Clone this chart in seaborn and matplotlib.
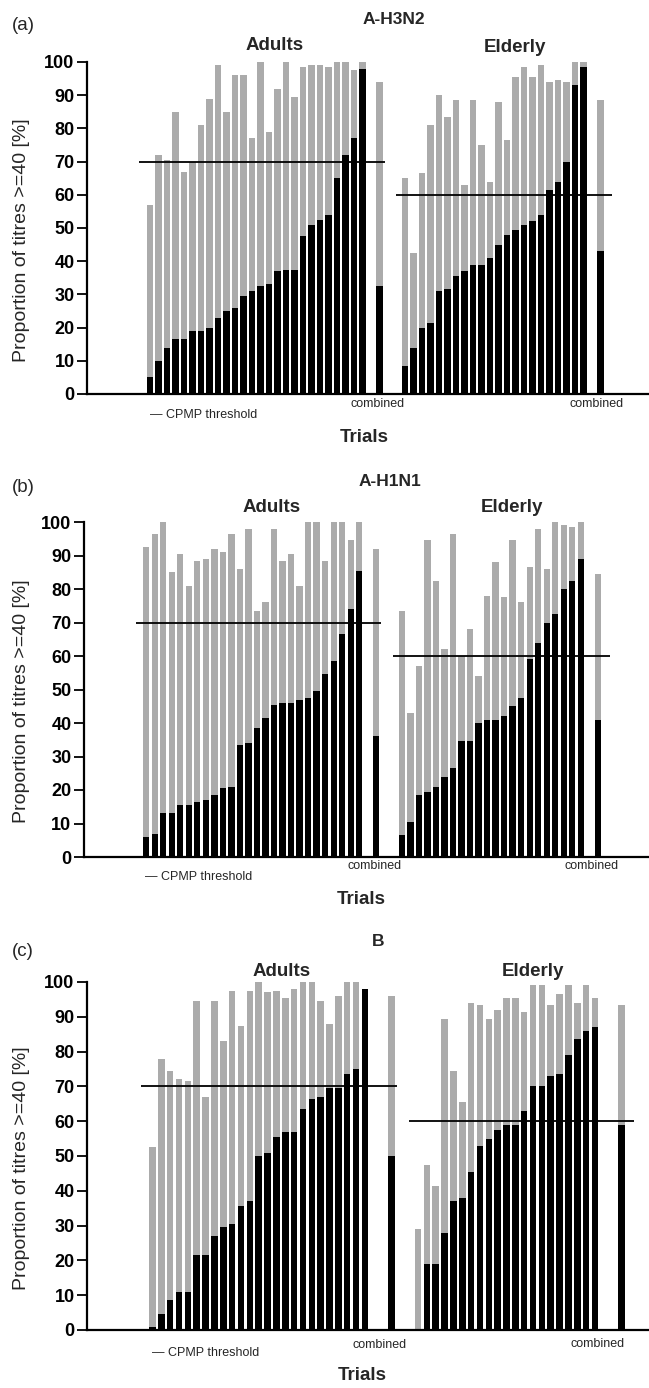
import matplotlib
matplotlib.use('Agg')
import matplotlib.pyplot as plt
import numpy as np
import pandas as pd
import seaborn as sns

# proportion of titres >= 40 [%], post (grey) and pre (black) per trial
h3n2_adult_post = [57, 72, 70.5, 85, 67, 70, 81, 89, 99, 85, 96, 96, 77, 100, 79, 92, 100, 89.5, 98.5, 99, 99, 98.5, 100, 100, 97.5, 100]
h3n2_adult_pre = [5, 10, 14, 16.5, 16.5, 19, 19, 20, 23, 25, 26, 29.5, 31, 32.5, 33, 37, 37.5, 37.5, 47.5, 51, 52.5, 54, 65, 72, 77, 98]
h3n2_adult_comb = (94, 32.5)
h3n2_eld_post = [65, 42.5, 66.5, 81, 90, 83.5, 88.5, 63, 88.5, 75, 64, 88, 76.5, 95.5, 98.5, 95.5, 99, 94, 94.5, 94, 100, 100]
h3n2_eld_pre = [8.5, 14, 20, 21.5, 31, 31.5, 35.5, 37, 39, 39, 41, 45, 48, 49.5, 51, 52, 54, 61.5, 64, 70, 93, 98.5]
h3n2_eld_comb = (88.5, 43)

h1n1_adult_post = [92.5, 96.5, 100, 85, 90.5, 81, 88.5, 89, 92, 91, 96.5, 86, 98, 73.5, 76, 98, 88.5, 90.5, 81, 100, 100, 88.5, 100, 100, 94.5, 100]
h1n1_adult_pre = [6, 7, 13, 13, 15.5, 15.5, 16.5, 17, 18.5, 20.5, 21, 33.5, 34, 38.5, 41.5, 45.5, 46, 46, 47, 47.5, 49.5, 54.5, 58.5, 66.5, 74, 85.5]
h1n1_adult_comb = (92, 36)
h1n1_eld_post = [73.5, 43, 57, 94.5, 82.5, 62, 96.5, 60, 68, 54, 78, 88, 77.5, 94.5, 76, 86.5, 98, 86, 100, 99, 98.5, 100]
h1n1_eld_pre = [6.5, 10.5, 18.5, 19.5, 21, 24, 26.5, 34.5, 34.5, 40, 41, 41, 42, 45, 47.5, 59, 64, 70, 72.5, 80, 82.5, 89]
h1n1_eld_comb = (84.5, 41)

b_adult_post = [52.5, 78, 74.5, 72, 71.5, 94.5, 67, 94.5, 83, 97.5, 87.5, 97.5, 100, 97, 97.5, 95.5, 98, 100, 100, 94.5, 88, 96, 100, 100, 98]
b_adult_pre = [1, 4.5, 8.5, 11, 11, 21.5, 21.5, 27, 29.5, 30.5, 35.5, 37, 50, 51, 55.5, 57, 57, 63.5, 66.5, 67, 69.5, 69.5, 73.5, 75, 98]
b_adult_comb = (96, 50)
b_eld_post = [29, 47.5, 41.5, 89.5, 74.5, 65.5, 94, 93.5, 89.5, 92, 95.5, 95.5, 91.5, 99, 99, 93.5, 96.5, 99, 94, 99, 95.5]
b_eld_pre = [0, 19, 19, 28, 37, 38, 45.5, 53, 55, 57.5, 59, 59, 63, 70, 70, 73, 73.5, 79, 83.5, 86, 87]
b_eld_comb = (93.5, 59)

thresholds = (70, 60)  # CPMP: adults, elderly

panels = [
    dict(tag='(a)', title='A-H3N2',
         adult=(h3n2_adult_post, h3n2_adult_pre, h3n2_adult_comb),
         eld=(h3n2_eld_post, h3n2_eld_pre, h3n2_eld_comb)),
    dict(tag='(b)', title='A-H1N1',
         adult=(h1n1_adult_post, h1n1_adult_pre, h1n1_adult_comb),
         eld=(h1n1_eld_post, h1n1_eld_pre, h1n1_eld_comb)),
    dict(tag='(c)', title='B',
         adult=(b_adult_post, b_adult_pre, b_adult_comb),
         eld=(b_eld_post, b_eld_pre, b_eld_comb)),
]

# layout in pixels (figure is 649 x 1388)
W, H = 649, 1388
ax_box = [  # left, top(100), bottom(0) pixel
    (87, 62, 394),
    (84, 522, 857),
    (87, 982, 1330),
]
xlims = [(-7.4, 58.7), (-7.3, 59.0), (-7.4, 56.1)]
txt = [
    dict(tag=(12, 26), title=(394, 20), adults=(275, 45), eld=(515, 47),
         comb1=(378, 404), comb2=(597, 404), cpmp=(150, 415), trials=(364, 437)),
    dict(tag=(12, 487), title=(390, 482), adults=(272, 508), eld=(512, 508),
         comb1=(375, 866), comb2=(592, 866), cpmp=(145, 877), trials=(361, 899)),
    dict(tag=(12, 951), title=(378, 942), adults=(282, 972), eld=(533, 972),
         comb1=(380, 1345), comb2=(598, 1344), cpmp=(152, 1353), trials=(362, 1375)),
]

GREY = '#ababab'

sns.set_style('ticks')
plt.rcParams['font.family'] = ['Liberation Sans', 'DejaVu Sans']

fig = plt.figure(figsize=(W / 100, H / 100), dpi=100)


def fx(x):
    return x / W


def fy(y):
    return 1 - y / H


def build_frame(p):
    a_post, a_pre, a_comb = p['adult']
    e_post, e_pre, e_comb = p['eld']
    n_a = len(a_post)
    pos = list(range(n_a)) + [27] + list(range(30, 30 + len(e_post))) + [53]
    post = a_post + [a_comb[0]] + e_post + [e_comb[0]]
    pre = a_pre + [a_comb[1]] + e_pre + [e_comb[1]]
    return pd.DataFrame({'pos': pos, 'post': post, 'pre': pre})


for i, p in enumerate(panels):
    left, top, bot = ax_box[i]
    ax = fig.add_axes([fx(left), fy(bot), 1 - fx(left), (bot - top) / H])
    df = build_frame(p)
    sns.barplot(data=df, x='pos', y='post', native_scale=True, color=GREY,
                saturation=1, width=0.74, errorbar=None, linewidth=0, ax=ax)
    sns.barplot(data=df, x='pos', y='pre', native_scale=True, color='black',
                saturation=1, width=0.74, errorbar=None, linewidth=0, ax=ax)
    ax.hlines(thresholds[0], -1.25, 27.6, color='black', lw=1.3, zorder=5)
    ax.hlines(thresholds[1], 29.0, 54.4, color='black', lw=1.3, zorder=5)
    ax.set_xlim(*xlims[i])
    ax.set_ylim(0, 100)
    ax.set_yticks(np.arange(0, 101, 10))
    ax.set_xticks([])
    ax.set_xlabel('')
    ax.set_ylabel('')
    sns.despine(ax=ax)
    for s in ['left', 'bottom']:
        ax.spines[s].set_linewidth(1.6)
        ax.spines[s].set_color('black')
    ax.tick_params(axis='y', length=7, width=1.3, pad=2, labelsize=13, colors='black')
    for lab in ax.get_yticklabels():
        lab.set_fontweight('bold')

    t = txt[i]
    fig.text(fx(t['tag'][0]), fy(t['tag'][1]), p['tag'], fontsize=13.5, ha='left', va='center')
    fig.text(fx(t['title'][0]), fy(t['title'][1]), p['title'], fontsize=12.5, fontweight='bold', ha='center', va='center')
    fig.text(fx(t['adults'][0]), fy(t['adults'][1]), 'Adults', fontsize=13.5, fontweight='bold', ha='center', va='center')
    fig.text(fx(t['eld'][0]), fy(t['eld'][1]), 'Elderly', fontsize=13.5, fontweight='bold', ha='center', va='center')
    fig.text(fx(t['comb1'][0]), fy(t['comb1'][1]), 'combined', fontsize=9, ha='center', va='center')
    fig.text(fx(t['comb2'][0]), fy(t['comb2'][1]), 'combined', fontsize=9, ha='center', va='center')
    fig.text(fx(t['cpmp'][0]), fy(t['cpmp'][1]), '\u2014 CPMP threshold', fontsize=9, ha='left', va='center')
    fig.text(fx(t['trials'][0]), fy(t['trials'][1]), 'Trials', fontsize=13.5, fontweight='bold', ha='center', va='center')
    fig.text(fx(22), fy((top + bot) / 2 + 12), 'Proportion of titres >=40 [%]', fontsize=14,
             rotation=90, ha='center', va='center')

fig.savefig('out.png', dpi=100)
